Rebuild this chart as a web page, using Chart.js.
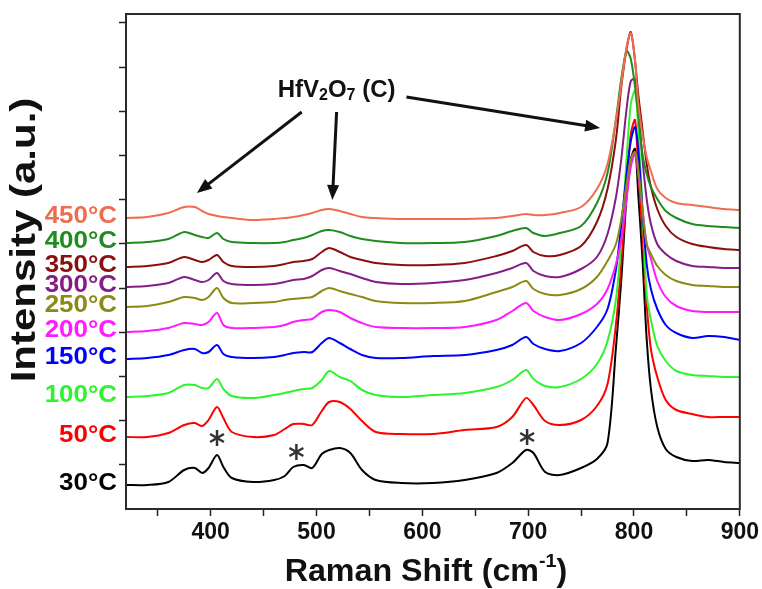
<!DOCTYPE html>
<html>
<head>
<meta charset="utf-8">
<script src="https://cdn.jsdelivr.net/npm/chart.js@4.4.1/dist/chart.umd.min.js"></script>
<style>
  body { margin: 0; background: #fff; }
</style>
</head>
<body>
<canvas id="chart" width="762" height="589"></canvas>
<script>
// raman shift grid (cm-1)
const shift = [320, 340, 360, 375, 385, 392, 398, 406, 412, 420,
  440, 460, 470, 478, 488, 496, 505, 512, 522, 532,
  543, 556, 580, 610, 640, 670, 685, 698, 705, 716,
  730, 750, 765, 775, 783, 788, 793, 797, 801, 804,
  808, 812, 816, 822, 830, 840, 855, 870, 885, 900];

// stacked intensities (a.u., offsets included)
const t450 = [291, 292, 296, 302, 302, 298, 295, 293, 292, 291,
  289, 290, 291, 292, 294, 296, 299, 300, 298, 295,
  292, 291, 290, 290, 290, 291, 293, 295, 294, 294,
  296, 302, 320, 345, 389, 425, 462, 476, 449, 406,
  375, 352, 338, 320, 311, 306, 304, 302, 300, 299];
const t400 = [266, 267, 270, 277, 274, 272, 271, 276, 270, 267,
  266, 266, 267, 269, 271, 274, 278, 279, 277, 273,
  270, 268, 266, 266, 267, 273, 278, 281, 276, 273,
  276, 283, 306, 336, 390, 430, 458, 450, 422, 395,
  355, 335, 322, 310, 298, 291, 285, 283, 282, 281];
const t350 = [242, 243, 246, 252, 249, 247, 249, 254, 247, 243,
  242, 243, 245, 247, 248, 250, 257, 261, 257, 252,
  249, 246, 244, 244, 246, 253, 258, 264, 257, 253,
  254, 263, 287, 320, 370, 422, 460, 477, 448, 415,
  380, 345, 322, 300, 283, 272, 265, 262, 260, 259];
const t300 = [222, 223, 226, 232, 229, 227, 229, 236, 228, 225,
  224, 225, 227, 229, 230, 233, 239, 241, 238, 235,
  231, 227, 225, 226, 229, 236, 241, 246, 238, 233,
  232, 240, 252, 275, 312, 350, 400, 428, 430, 400,
  350, 310, 285, 265, 255, 248, 243, 242, 241, 241];
const t250 = [202, 203, 207, 212, 211, 209, 212, 221, 211, 206,
  206, 207, 209, 210, 211, 212, 218, 221, 218, 215,
  212, 208, 206, 206, 208, 217, 222, 228, 220, 215,
  214, 220, 232, 248, 265, 290, 325, 350, 357, 340,
  300, 265, 255, 243, 234, 228, 224, 223, 222, 222];
const t200 = [177, 178, 181, 186, 185, 184, 187, 196, 184, 181,
  181, 182, 184, 187, 189, 190, 197, 199, 197, 191,
  186, 182, 181, 181, 182, 189, 198, 206, 198, 192,
  189, 195, 205, 220, 245, 270, 310, 342, 355, 335,
  300, 265, 250, 228, 212, 203, 198, 197, 197, 197];
const t150 = [150, 151, 154, 159, 160, 156, 157, 164, 155, 152,
  151, 152, 154, 156, 157, 157, 166, 171, 166, 160,
  154, 151, 151, 153, 154, 159, 164, 172, 165, 160,
  158, 166, 182, 200, 240, 285, 335, 368, 382, 360,
  300, 245, 220, 200, 184, 176, 171, 173, 172, 169];
const t100 = [112, 113, 116, 124, 124, 121, 121, 130, 120, 113,
  111, 114, 116, 118, 120, 121, 129, 138, 132, 128,
  119, 114, 112, 114, 116, 122, 129, 139, 130, 123,
  122, 130, 145, 168, 210, 270, 350, 405, 418, 380,
  300, 215, 189, 163, 148, 138, 134, 133, 132, 132];
const t50 = [72, 72, 76, 84, 86, 83, 89, 102, 91, 77,
  72, 74, 80, 85, 85, 84, 98, 107, 107, 100,
  88, 77, 75, 75, 79, 82, 92, 111, 104, 88,
  84, 89, 103, 125, 185, 246, 320, 375, 389, 340,
  275, 205, 160, 132, 109, 99, 95, 92, 92, 92];
const t30 = [24, 24, 27, 39, 41, 36, 41, 54, 42, 31,
  27, 29, 33, 42, 44, 41, 55, 59, 61, 56,
  39, 29, 26, 26, 29, 36, 46, 59, 56, 37,
  34, 41, 50, 66, 162, 229, 312, 350, 360, 315,
  250, 170, 120, 82, 60, 52, 48, 49, 47, 46];

const labels = ["450°C", "400°C", "350°C", "300°C", "250°C", "200°C", "150°C", "100°C", "50°C", "30°C"];
const values = [t450, t400, t350, t300, t250, t200, t150, t100, t50, t30];
const colors = ["#ef6c4f", "#1e8c1e", "#8b0f0f", "#861d86", "#8a8a14", "#ff1aff", "#0000ff", "#2cf52c", "#ff0000", "#000000"];

// axis ticks
const xTicks = [350, 400, 450, 500, 550, 600, 650, 700, 750, 800, 850, 900];
const xTickLabels = ["400", "500", "600", "700", "800", "900"];
const yTicks = [44.2, 88.4, 132.6, 176.8, 221, 265.2, 309.4, 353.6, 397.8, 442, 486.2];

// annotations, in data units
const peakLabel = { x: 519, y: 419 };
const arrows = [
  { from: [486, 397], to: [387, 316] },
  { from: [519, 397], to: [515, 309] },
  { from: [585, 412], to: [768, 381] },
];
const starX = [406, 481, 699];
const starY = [71, 57, 72];

const FONT = '"Liberation Sans", Arial, sans-serif';

function arrow(ctx, x1, y1, x2, y2) {
  const a = Math.atan2(y2 - y1, x2 - x1);
  const len = 15, w = 6;
  ctx.beginPath();
  ctx.moveTo(x1, y1);
  ctx.lineTo(x2 - Math.cos(a) * len * 0.8, y2 - Math.sin(a) * len * 0.8);
  ctx.stroke();
  ctx.beginPath();
  ctx.moveTo(x2, y2);
  ctx.lineTo(x2 - Math.cos(a) * len - Math.sin(a) * w, y2 - Math.sin(a) * len + Math.cos(a) * w);
  ctx.lineTo(x2 - Math.cos(a) * len + Math.sin(a) * w, y2 - Math.sin(a) * len - Math.cos(a) * w);
  ctx.closePath();
  ctx.fill();
}

// draws text pieces in a row, [text, size, dy]; sx stretches it sideways
function richText(ctx, parts, cx, cy, sx = 1) {
  let total = 0;
  parts.forEach((p) => {
    ctx.font = "bold " + p[1] + "px " + FONT;
    total += ctx.measureText(p[0]).width;
  });
  ctx.save();
  ctx.translate(cx, cy);
  ctx.scale(sx, 1);
  let x = -total / 2;
  ctx.textAlign = "left";
  ctx.textBaseline = "middle";
  parts.forEach((p) => {
    ctx.font = "bold " + p[1] + "px " + FONT;
    ctx.fillText(p[0], x, p[2]);
    x += ctx.measureText(p[0]).width;
  });
  ctx.restore();
}

const overlay = {
  id: "overlay",
  afterDraw(chart) {
    const { ctx, chartArea: a } = chart;
    const xs = chart.scales.x, ys = chart.scales.y;
    ctx.save();

    // frame
    ctx.strokeStyle = "#2a2a2a";
    ctx.lineWidth = 2;
    ctx.strokeRect(a.left, a.top, a.right - a.left, a.bottom - a.top);

    // temperature labels
    labels.forEach((l, i) => {
      ctx.fillStyle = colors[i];
      ctx.save();
      ctx.translate(a.left - 9, ys.getPixelForValue(values[i][0]) - 2);
      ctx.scale(1.08, 1);
      ctx.font = "bold 24px " + FONT;
      ctx.textAlign = "right";
      ctx.textBaseline = "middle";
      ctx.fillText(l, 0, 0);
      ctx.restore();
    });

    // axis titles
    ctx.fillStyle = "#111";
    ctx.save();
    ctx.translate(25, 240);
    ctx.rotate(-Math.PI / 2);
    richText(ctx, [["Intensity (a.u.)", 35, 0]], 0, 0, 1.2);
    ctx.restore();
    richText(ctx, [["Raman Shift (cm", 31, 0], ["-1", 19, -10], [")", 31, 0]], 426, 572, 1.04);

    // peak label + arrows
    ctx.fillStyle = "#111";
    richText(ctx, [["HfV", 24, 0], ["2", 16, 6], ["O", 24, 0], ["7", 16, 6], [" (C)", 24, 0]],
      xs.getPixelForValue(peakLabel.x), ys.getPixelForValue(peakLabel.y));
    ctx.strokeStyle = "#111";
    ctx.lineWidth = 3;
    arrows.forEach((r) => {
      arrow(ctx, xs.getPixelForValue(r.from[0]), ys.getPixelForValue(r.from[1]),
        xs.getPixelForValue(r.to[0]), ys.getPixelForValue(r.to[1]));
    });

    // asterisks
    ctx.strokeStyle = "#333";
    ctx.lineWidth = 2.5;
    starX.forEach((v, i) => {
      const cx = xs.getPixelForValue(v), cy = ys.getPixelForValue(starY[i]);
      [90, 30, 150].forEach((deg) => {
        const r = (deg * Math.PI) / 180;
        ctx.beginPath();
        ctx.moveTo(cx - Math.cos(r) * 8, cy - Math.sin(r) * 8);
        ctx.lineTo(cx + Math.cos(r) * 8, cy + Math.sin(r) * 8);
        ctx.stroke();
      });
    });
    ctx.restore();
  },
};

const datasets = values.map((vals, i) => ({
  label: labels[i],
  data: vals.map((v, j) => ({ x: shift[j], y: v })),
  borderColor: colors[i],
  borderWidth: 2,
  pointRadius: 0,
  tension: 0.3,
  fill: false,
}));

new Chart(document.getElementById("chart").getContext("2d"), {
  type: "line",
  data: { datasets },
  plugins: [overlay],
  options: {
    responsive: false,
    animation: false,
    layout: { padding: { top: 14, right: 20, left: 0, bottom: 0 } },
    plugins: { legend: { display: false }, tooltip: { enabled: false } },
    scales: {
      x: {
        type: "linear",
        min: 320,
        max: 900,
        afterBuildTicks: (s) => { s.ticks = xTicks.map((v) => ({ value: v })); },
        afterFit: (s) => { s.height = 80; },
        grid: { drawOnChartArea: false, tickLength: 7, tickWidth: 1.5, tickColor: "#222" },
        border: { color: "#222", width: 2 },
        ticks: {
          autoSkip: false,
          maxRotation: 0,
          padding: 3,
          color: "#111",
          font: { family: FONT, size: 23, weight: "bold" },
          callback: (v) => (xTickLabels.includes(String(v)) ? String(v) : ""),
        },
      },
      y: {
        min: 0,
        max: 495,
        afterBuildTicks: (s) => { s.ticks = yTicks.map((v) => ({ value: v })); },
        afterFit: (s) => { s.width = 126; },
        grid: { drawOnChartArea: false, tickLength: 7, tickWidth: 1.5, tickColor: "#222" },
        border: { color: "#222", width: 2 },
        ticks: { callback: () => "" },
      },
    },
  },
});
</script>
</body>
</html>
